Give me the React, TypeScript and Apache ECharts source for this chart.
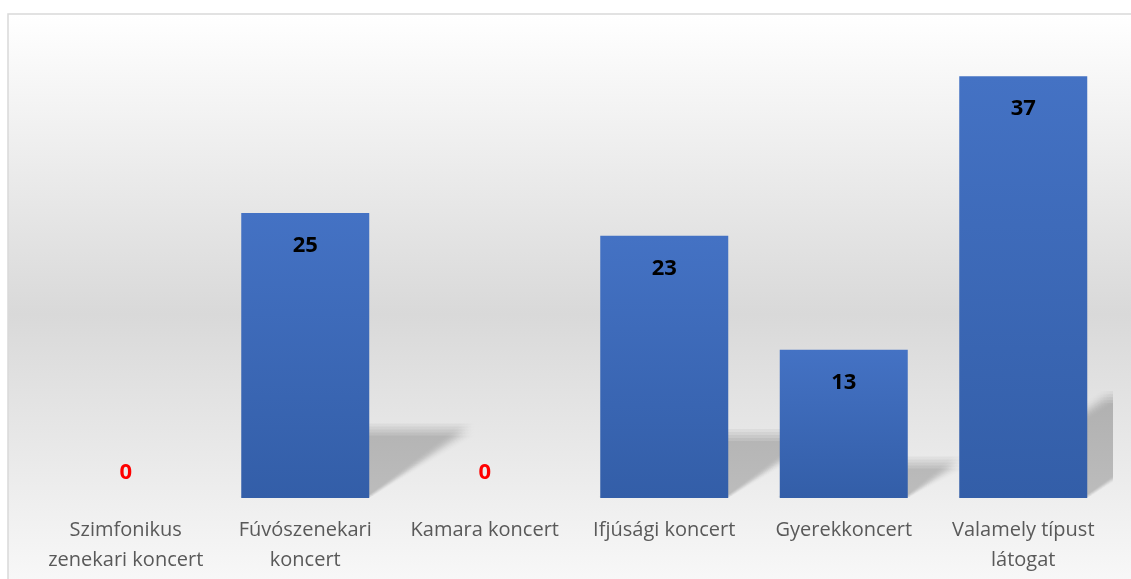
import React, { useEffect, useRef } from "react";
import * as echarts from "echarts";

const categories: string[] = [
  "Szimfonikus\nzenekari koncert",
  "Fúvószenekari\nkoncert",
  "Kamara koncert",
  "Ifjúsági koncert",
  "Gyerekkoncert",
  "Valamely típust\nlátogat",
];
const values: number[] = [0, 25, 0, 23, 13, 37];
const yMin = 0;
const yMax = 40;

export default function App() {
  const ref = useRef<HTMLDivElement>(null);
  useEffect(() => {
    if (!ref.current) return;
    const chart = echarts.init(ref.current, undefined, { renderer: "svg" });
    const steps = [-4, -2, 0, 2, 4];
    const layerAlpha = 1 - Math.pow(1 - 0.19, 1 / (steps.length * steps.length));
    const option: any = {
      animation: false,
      graphic: [
        {
          type: "rect",
          z: -10,
          silent: true,
          shape: { x: 8, y: 14, width: 1200, height: 600 },
          style: {
            stroke: "#d9d9d9",
            lineWidth: 1.5,
            fill: new echarts.graphic.LinearGradient(0, 0, 0, 1, [
              { offset: 0, color: "#ffffff" },
              { offset: 0.5, color: "#d9d9d9" },
              { offset: 0.95, color: "#f8f8f8" },
              { offset: 1, color: "#fbfbfb" },
            ]),
          },
        },
      ],
      grid: { left: 36, right: 18, top: 42, bottom: 81, containLabel: false },
      xAxis: {
        type: "category",
        data: categories,
        axisLine: { show: false },
        axisTick: { show: false },
        splitLine: { show: false },
        axisLabel: {
          interval: 0,
          color: "#595959",
          fontFamily: "Open Sans",
          fontSize: 20,
          lineHeight: 30,
          margin: 15,
        },
      },
      yAxis: {
        type: "value",
        min: yMin,
        max: yMax,
        show: false,
        splitLine: { show: false },
      },
      series: [
        {
          type: "custom",
          z: 1,
          clip: true,
          silent: true,
          encode: { x: 0, y: 1 },
          data: values.map((v, i) => [i, v]),
          renderItem: (params: any, api: any) => {
            const v = api.value(1);
            const base = api.coord([api.value(0), 0]);
            const top = api.coord([api.value(0), v]);
            const h = base[1] - top[1];
            if (h <= 0) return null;
            const half = 64;
            const xL = base[0] - half;
            const xR = base[0] + half;
            const dx = h * 0.35;
            const dy = h * 0.24;
            const children: any[] = [];
            for (const sx of steps) {
              for (const sy of steps) {
                children.push({
                  type: "polygon",
                  shape: {
                    points: [
                      [xL + sx * 0.6, base[1] - 1],
                      [xR + sx * 0.6, base[1] - 1],
                      [xR + dx + sx * 1.5, base[1] - dy + sy * 1.5],
                      [xL + dx + sx * 1.5, base[1] - dy + sy * 1.5],
                    ],
                  },
                  style: { fill: `rgba(0,0,0,${layerAlpha})` },
                });
              }
            }
            return { type: "group", children };
          },
        },
        {
          type: "bar",
          z: 2,
          barWidth: 128,
          data: values.map((v) => ({
            value: v,
            label:
              v === 0
                ? { position: "top", distance: 17, color: "#ff0000" }
                : {},
          })),
          itemStyle: {
            color: new echarts.graphic.LinearGradient(0, 0, 0, 1, [
              { offset: 0, color: "#4472c4" },
              { offset: 1, color: "#335ea8" },
            ]),
          },
          label: {
            show: true,
            position: "insideTop",
            distance: 19,
            color: "#000000",
            fontFamily: "Open Sans",
            fontWeight: "bold",
            fontSize: 22,
          },
        },
      ],
    };
    chart.setOption(option);
    return () => chart.dispose();
  }, []);
  return (
    <div
      ref={ref}
      style={{ position: "fixed", left: 0, top: 0, width: 1131, height: 579 }}
    />
  );
}
